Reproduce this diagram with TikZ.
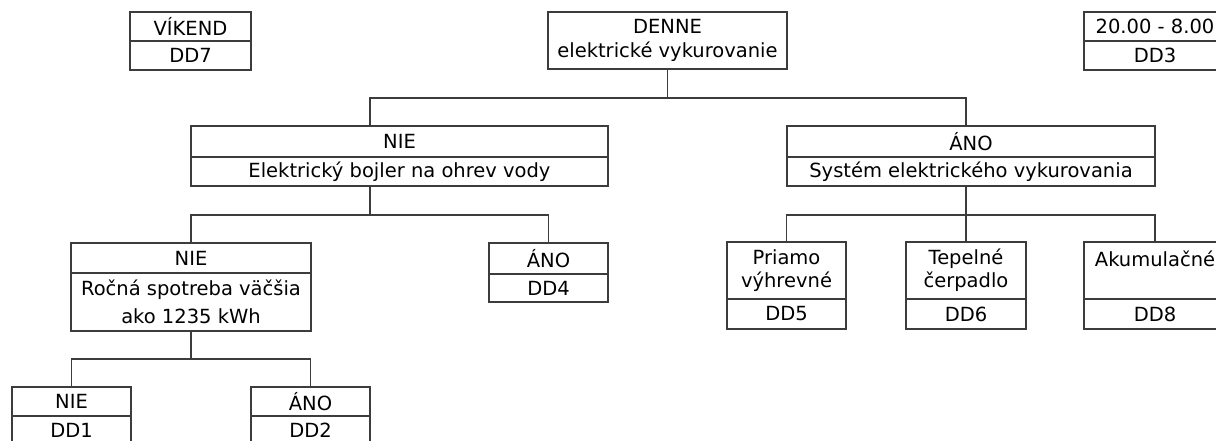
\documentclass[tikz,border=0pt]{standalone}
\usepackage{fontspec}
\setmainfont{DejaVu Sans}
\usepackage{tikz}
\usetikzlibrary{calc}
\usepackage{xcolor}

\definecolor{linegray}{HTML}{3C3C3C}
\newcommand{\boxfont}{\fontsize{19.5}{23.4}\selectfont}

\tikzset{
    cell/.style = {draw = linegray, line width = 1.7pt, inner sep = 0pt, outer sep = 0pt,
                   align = center, font = \boxfont, anchor = north},
    link/.style = {draw = linegray, line width = 1.7pt}
}

\begin{document}
\begin{tikzpicture}[x = 1pt, y = -1pt]
    \useasboundingbox (0,0) rectangle (1216,441);
    \clip (0,0) rectangle (1216,441);
    \pgfmathsetmacro{\row}{29}
    \pgfmathsetmacro{\drop}{29}
    % top row
    \node[cell, minimum width = 121, minimum height = \row] (vikend) at (190.5,12) {VÍKEND};
    \node[cell, minimum width = 121, minimum height = \row] (dd7) at (vikend.south) {DD7};
    \node[cell, minimum width = 239, minimum height = 57] (denne) at (667.5,12) {DENNE\\elektrické vykurovanie};
    \node[cell, minimum width = 142, minimum height = \row] (noc) at (1155,12) {20.00 - 8.00};
    \node[cell, minimum width = 142, minimum height = \row] (dd3) at (noc.south) {DD3};
    % second row
    \node[cell, minimum width = 417, minimum height = 31] (nie2) at (399.5,126) {NIE};
    \node[cell, minimum width = 417, minimum height = \row] (bojler) at (nie2.south) {Elektrický bojler na ohrev vody};
    \node[cell, minimum width = 368, minimum height = 31] (ano2) at (971,126) {ÁNO};
    \node[cell, minimum width = 368, minimum height = \row] (system) at (ano2.south) {Systém elektrického vykurovania};
    \coordinate (nie2in) at (370,126);
    \coordinate (nie2out) at (370,186);
    \coordinate (ano2in) at (966,126);
    \coordinate (ano2out) at (966,186);
    % third row
    \node[cell, minimum width = 240, minimum height = 30] (nie3) at (191,243) {NIE};
    \node[cell, minimum width = 240, minimum height = 58] (spotreba) at (nie3.south) {Ročná spotreba väčšia\\[5pt]ako 1235 kWh};
    \node[cell, minimum width = 119, minimum height = 31] (ano3) at (548.5,243) {ÁNO};
    \node[cell, minimum width = 119, minimum height = 28] (dd4) at (ano3.south) {DD4};
    \node[cell, minimum width = 119, minimum height = 57] (priamo) at (786.5,242) {Priamo\\výhrevné};
    \node[cell, minimum width = 119, minimum height = 30] (dd5) at (priamo.south) {DD5};
    \node[cell, minimum width = 120, minimum height = 57] (tepelne) at (966,242) {Tepelné\\čerpadlo};
    \node[cell, minimum width = 120, minimum height = 30] (dd6) at (tepelne.south) {DD6};
    \node[cell, minimum width = 142, minimum height = 57] (akum) at (1155,242) {Akumulačné\\\mbox{}};
    \node[cell, minimum width = 142, minimum height = 30] (dd8) at (akum.south) {DD8};
    % fourth row
    \node[cell, minimum width = 119, minimum height = \row] (nie4) at (71.5,387) {NIE};
    \node[cell, minimum width = 119, minimum height = \row] (dd1) at (nie4.south) {DD1};
    \node[cell, minimum width = 119, minimum height = \row] (ano4) at (310.5,387) {ÁNO};
    \node[cell, minimum width = 119, minimum height = \row] (dd2) at (ano4.south) {DD2};
    % connectors
    \draw[link] (denne.south) -- ++(0,\drop) -| (nie2in);
    \draw[link] (denne.south) -- ++(0,\drop) -| (ano2in);
    \draw[link] (nie2out) -- ++(0,\drop) -| (nie3.north);
    \draw[link] (nie2out) -- ++(0,\drop) -| (ano3.north);
    \draw[link] (ano2out) -- ++(0,\drop) -| (priamo.north);
    \draw[link] (ano2out) -- (tepelne.north);
    \draw[link] (ano2out) -- ++(0,\drop) -| (akum.north);
    \draw[link] (spotreba.south) -- ++(0,28) -| (nie4.north);
    \draw[link] (spotreba.south) -- ++(0,28) -| (ano4.north);
\end{tikzpicture}
\end{document}
